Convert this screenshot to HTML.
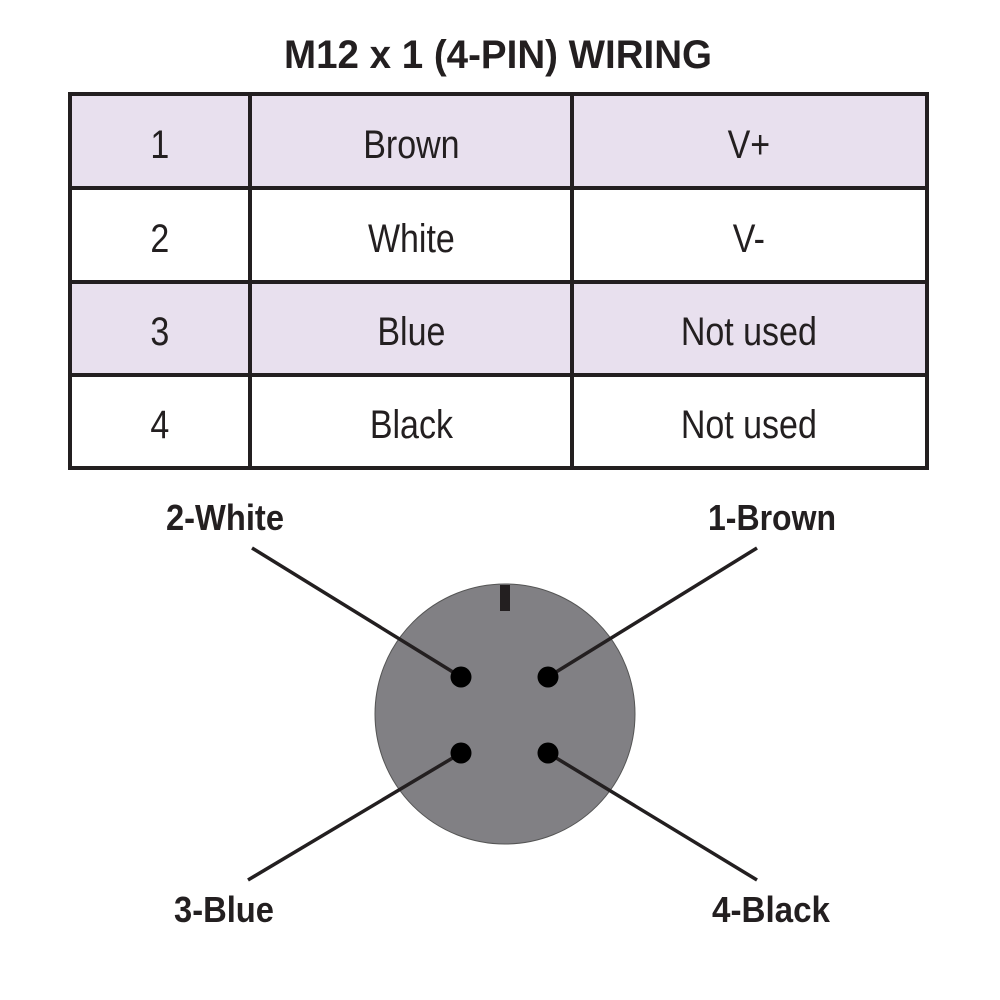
<!DOCTYPE html>
<html><head><style>body{margin:0;background:#fff}svg{display:block}</style></head><body>
<svg width="1000" height="1000" viewBox="0 0 1000 1000" xmlns="http://www.w3.org/2000/svg" font-family="Liberation Sans, sans-serif">
<text x="498" y="68" font-size="40" font-weight="bold" text-anchor="middle" textLength="428" lengthAdjust="spacingAndGlyphs" fill="#231f20">M12 x 1 (4-PIN) WIRING</text>
<rect x="70" y="94" width="857" height="94" fill="#e8e0ee"/>
<rect x="70" y="282" width="857" height="93" fill="#e8e0ee"/>
<g stroke="#231f20" stroke-width="4" fill="none">
<rect x="70" y="94" width="857" height="374"/>
<line x1="70" y1="188" x2="927" y2="188"/>
<line x1="70" y1="282" x2="927" y2="282"/>
<line x1="70" y1="375" x2="927" y2="375"/>
<line x1="250" y1="94" x2="250" y2="468"/>
<line x1="572" y1="94" x2="572" y2="468"/>
</g>
<g font-size="40" text-anchor="middle" fill="#231f20" transform="scale(0.85,1)">
<text x="188" y="158">1</text><text x="484" y="158">Brown</text><text x="881" y="158">V+</text>
<text x="188" y="252">2</text><text x="484" y="252">White</text><text x="881" y="252">V-</text>
<text x="188" y="345">3</text><text x="484" y="345">Blue</text><text x="881" y="345">Not used</text>
<text x="188" y="438">4</text><text x="484" y="438">Black</text><text x="881" y="438">Not used</text>
</g>
<circle cx="505" cy="714" r="130" fill="#818084" stroke="#555" stroke-width="1"/>
<rect x="500" y="585" width="10" height="26" fill="#231f20"/>
<g stroke="#231f20" stroke-width="3.5">
<line x1="252" y1="548" x2="461" y2="677"/>
<line x1="757" y1="548" x2="548" y2="677"/>
<line x1="248" y1="880" x2="461" y2="753"/>
<line x1="757" y1="880" x2="548" y2="753"/>
</g>
<g fill="#000">
<circle cx="461" cy="677" r="10.5"/><circle cx="548" cy="677" r="10.5"/>
<circle cx="461" cy="753" r="10.5"/><circle cx="548" cy="753" r="10.5"/>
</g>
<g font-size="36" font-weight="bold" fill="#231f20">
<text x="166" y="530" textLength="118" lengthAdjust="spacingAndGlyphs">2-White</text>
<text x="708" y="530" textLength="128" lengthAdjust="spacingAndGlyphs">1-Brown</text>
<text x="174" y="922" textLength="100" lengthAdjust="spacingAndGlyphs">3-Blue</text>
<text x="712" y="922" textLength="118" lengthAdjust="spacingAndGlyphs">4-Black</text>
</g>
</svg>
</body></html>
